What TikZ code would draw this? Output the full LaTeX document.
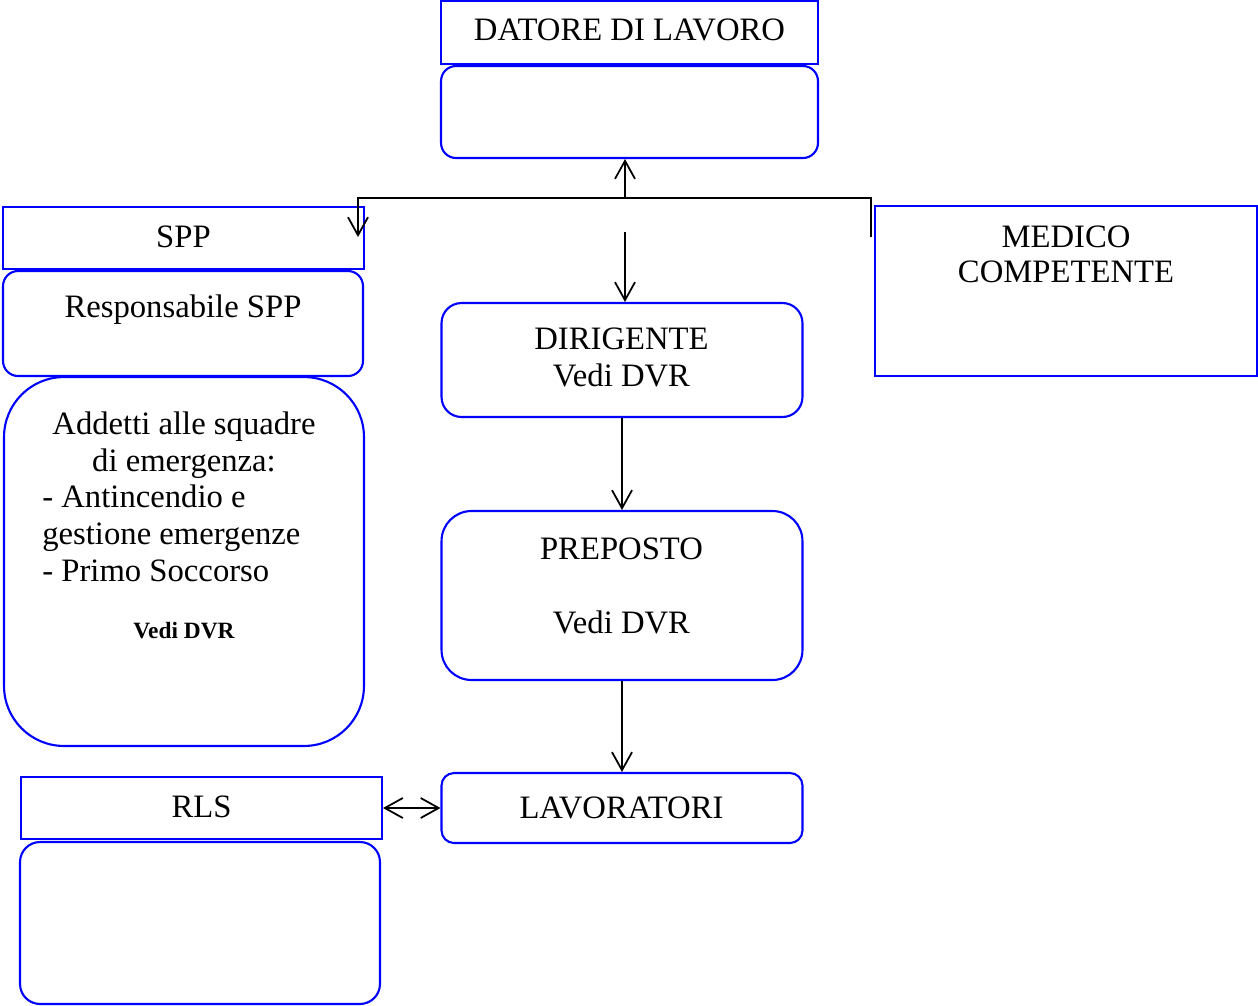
\documentclass[tikz,border=0pt]{standalone}
\usepackage{fontspec}
\setmainfont{Liberation Serif}
\usetikzlibrary{arrows.meta}
\tikzset{
	box/.style={draw=blue, line width=1.2pt, rectangle, inner sep=0pt},
	rbox/.style={box, rounded corners=#1},
	txt/.style={anchor=base, inner sep=0pt, font=\fontsize{18.6}{21}\selectfont},
	bold/.style={anchor=base, inner sep=0pt, font=\fontsize{13.3}{15}\selectfont\bfseries},
	arr/.style={line width=1pt, -{Straight Barb[length=3.6mm, width=4mm]}},
	darr/.style={line width=1pt, {Straight Barb[length=3.6mm, width=4mm]}-{Straight Barb[length=3.6mm, width=4mm]}}
}

\begin{document}
\begin{tikzpicture}[x=0.02cm, y=-0.02cm]
				\useasboundingbox (0,0) rectangle (1258,1005);
				\node[box, minimum width=7.54cm, minimum height=1.26cm] (DL)at(629.5, 32.5) {};
				\node[rbox=0.3cm, minimum width=7.54cm, minimum height=1.84cm] (DLb)at(629.5, 112) {};
				\node[box, minimum width=7.22cm, minimum height=1.24cm] (SPP)at(183.5, 238) {};
				\node[rbox=0.3cm, minimum width=7.2cm, minimum height=2.1cm] (RSPP)at(183, 323.5) {};
				\node[rbox=1.2cm, minimum width=7.2cm, minimum height=7.38cm] (ADD)at(184, 561.5) {};
				\node[rbox=0.4cm, minimum width=7.22cm, minimum height=2.28cm] (DIR)at(622, 360) {};
				\node[rbox=0.6cm, minimum width=7.22cm, minimum height=3.38cm] (PRE)at(622, 595.5) {};
				\node[rbox=0.25cm, minimum width=7.22cm, minimum height=1.4cm] (LAV)at(622, 808) {};
				\node[box, minimum width=7.22cm, minimum height=1.24cm] (RLS)at(201.5, 808) {};
				\node[rbox=0.4cm, minimum width=7.2cm, minimum height=3.24cm] (RLSb)at(200, 923) {};
				\node[box, minimum width=7.64cm, minimum height=3.4cm] (MC)at(1066, 291) {};

				\node[txt] (tDL)at(629.5, 40) {DATORE DI LAVORO};
				\node[txt] (tSPP)at(183.5, 247) {SPP};
				\node[txt] (tRSPP)at(183, 317) {Responsabile SPP};
				\node[txt] (tADD1)at(184, 434) {Addetti alle squadre};
				\node[txt] (tADD2)at(184, 471) {di emergenza:};
				\node[txt, anchor=base west] (tADD3)at(42, 507) {- Antincendio e};
				\node[txt, anchor=base west] (tADD4)at(42, 544) {gestione emergenze};
				\node[txt, anchor=base west] (tADD5)at(42, 581) {- Primo Soccorso};
				\node[bold] (tADD6)at(184, 638) {Vedi DVR};
				\node[txt] (tDIR1)at(621.5, 349) {DIRIGENTE};
				\node[txt] (tDIR2)at(621.5, 386) {Vedi DVR};
				\node[txt] (tPRE1)at(621.5, 559) {PREPOSTO};
				\node[txt] (tPRE2)at(621.5, 633) {Vedi DVR};
				\node[txt] (tLAV)at(621.5, 818) {LAVORATORI};
				\node[txt] (tRLS)at(201.5, 817) {RLS};
				\node[txt] (tMC1)at(1066, 247) {MEDICO};
				\node[txt] (tMC2)at(1066, 282) {COMPETENTE};

				\coordinate (busL) at (358, 198);
				\coordinate (busM) at (625, 198);
				\coordinate (busR) at (871, 198);
				\coordinate (endL) at (358, 237);
				\coordinate (endR) at (871, 237);
				\coordinate (dStart) at (625, 232);
				\draw[arr] (busM) -- (busM |- DLb.south);
				\draw[arr] (endR) -- (busR) -- (busL) -- (endL);
				\draw[arr] (dStart) -- (dStart |- DIR.north);
				\draw[arr] (DIR) -- (PRE);
				\draw[arr] (PRE) -- (LAV);
				\draw[darr] (RLS.east) -- (LAV.west);
			\end{tikzpicture}
\end{document}
